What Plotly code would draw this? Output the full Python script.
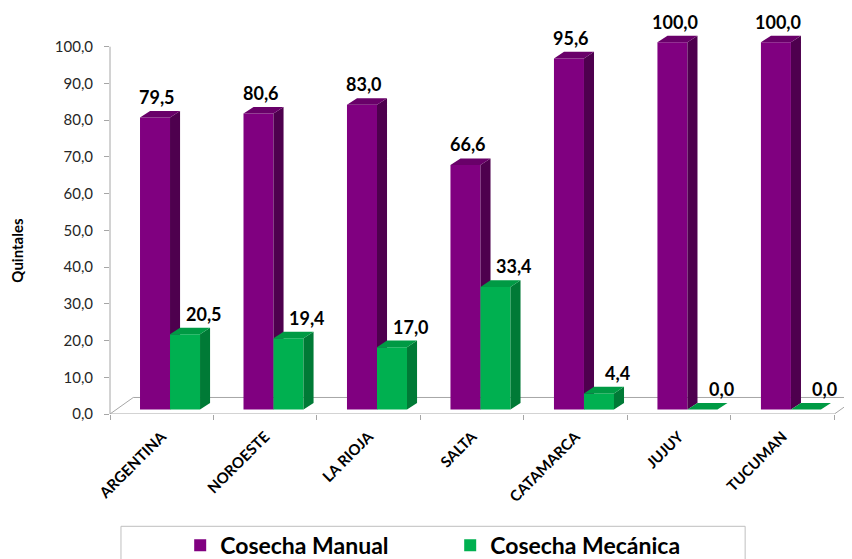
import plotly.graph_objects as go

categories = ["ARGENTINA", "NOROESTE", "LA RIOJA", "SALTA", "CATAMARCA", "JUJUY", "TUCUMAN"]
manual = [79.5, 80.6, 83.0, 66.6, 95.6, 100.0, 100.0]
mecanica = [20.5, 19.4, 17.0, 33.4, 4.4, 0.0, 0.0]
series_names = ["Cosecha Manual", "Cosecha Mecánica"]
y_ticks = [0, 10, 20, 30, 40, 50, 60, 70, 80, 90, 100]

# style constants
FONT = "Lato"
BASE = 1.2          # bars sit slightly above the front floor edge
WIDTH = 0.29
OFFSETS = [-0.21, 0.08]
DX, DY = 0.097, 1.8  # 3D depth of each bar
FLOOR_DX, FLOOR_DY = 0.225, 4.5
LABEL_SHIFT = [0.02, 0.18]
COLORS = [
    dict(front="#800080", side="#4E004E", top="#690069"),
    dict(front="#00B050", side="#007A36", top="#009A44"),
]
XRANGE = [-0.5, 6.67]
YRANGE = [0, 110]

fig = go.Figure()
n = len(categories)
xs = list(range(n))
axes = ["x", "x2"]

annotations = []
for s, vals in enumerate([manual, mecanica]):
    c = COLORS[s]
    xa = axes[s]
    fig.add_trace(go.Bar(
        x=xs, y=vals, base=BASE, offset=OFFSETS[s], width=WIDTH,
        marker=dict(color=c["front"], line=dict(width=0)),
        name=series_names[s], xaxis=xa, yaxis="y", hoverinfo="skip",
    ))
    side_x, side_y, top_x, top_y = [], [], [], []
    for i, v in enumerate(vals):
        xl = i + OFFSETS[s]
        xr = xl + WIDTH
        b = BASE
        t = BASE + v
        side_x += [xr, xr + DX, xr + DX, xr, xr, None]
        side_y += [b, b + DY, t + DY, t, b, None]
        top_x += [xl, xl + DX, xr + DX, xr, xl, None]
        top_y += [t, t + DY, t + DY, t, t, None]
        annotations.append(dict(
            x=i + OFFSETS[s] + WIDTH / 2 + LABEL_SHIFT[s], y=t + DY,
            xref="x", yref="y", text=f"{v:.1f}".replace(".", ","),
            showarrow=False, yanchor="bottom", yshift=1,
            font=dict(family=FONT, size=18, color="#000000", weight="bold"),
        ))
    fig.add_trace(go.Scatter(x=side_x, y=side_y, fill="toself", mode="lines",
                             line=dict(width=0), fillcolor=c["side"],
                             showlegend=False, hoverinfo="skip", xaxis=xa, yaxis="y"))
    fig.add_trace(go.Scatter(x=top_x, y=top_y, fill="toself", mode="lines",
                             line=dict(width=0), fillcolor=c["top"],
                             showlegend=False, hoverinfo="skip", xaxis=xa, yaxis="y"))

# floor
x0, x1 = -0.5, n - 0.5
fig.add_shape(type="path", xref="x", yref="y", layer="below",
              path=f"M {x0},{YRANGE[0]} L {x1},{YRANGE[0]} L {x1 + FLOOR_DX},{FLOOR_DY} L {x0 + FLOOR_DX},{FLOOR_DY} Z",
              line=dict(color="#A6A6A6", width=1), fillcolor="rgba(0,0,0,0)")
# y axis line (only 0..100)
fig.add_shape(type="line", xref="paper", yref="y", x0=0, x1=0, y0=y_ticks[0], y1=y_ticks[-1],
              line=dict(color="#A6A6A6", width=1))
# legend frame
fig.add_shape(type="rect", xref="paper", yref="paper", x0=0.0148, x1=0.856, y0=-0.278, y1=-0.5,
              line=dict(color="#BFBFBF", width=1), fillcolor="rgba(0,0,0,0)")

annotations.append(dict(
    x=-0.125, y=0.405, xref="paper", yref="paper", text="Quintales", textangle=-90,
    xanchor="center", yanchor="middle",
    showarrow=False, font=dict(family=FONT, size=15, color="#000000", weight="bold"),
))

fig.update_layout(
    width=844, height=551,
    margin=dict(l=102, r=0, t=2, b=145, autoexpand=False),
    paper_bgcolor="white", plot_bgcolor="white",
    separators=",.",
    barmode="overlay",
    showlegend=True,
    legend=dict(orientation="h", x=0.0946, y=-0.272, xanchor="left", yanchor="top",
                font=dict(family=FONT, size=23, color="#000000", weight="bold"),
                entrywidth=225, entrywidthmode="pixels", bgcolor="rgba(0,0,0,0)"),
    xaxis=dict(range=XRANGE, tickvals=xs, ticktext=categories, tickangle=-45,
               ticks="", showgrid=False, zeroline=False, showline=False, automargin=False,
               ticklabelstandoff=10,
               tickfont=dict(family=FONT, size=15, color="#000000", weight="bold"),
               minor=dict(tickvals=[i - 0.5 for i in range(n + 1)], ticks="outside",
                          ticklen=5, tickcolor="#A6A6A6", showgrid=False)),
    xaxis2=dict(range=XRANGE, overlaying="x", visible=False),
    yaxis=dict(range=YRANGE, tickvals=y_ticks, tickformat=".1f", ticks="outside",
               ticklen=5, tickcolor="#A6A6A6", showgrid=False, zeroline=False,
               showline=False, ticklabelstandoff=8, automargin=False,
               tickfont=dict(family=FONT, size=15, color="#262626")),
    annotations=annotations,
    font=dict(family=FONT),
)

fig.write_html("out.html")
